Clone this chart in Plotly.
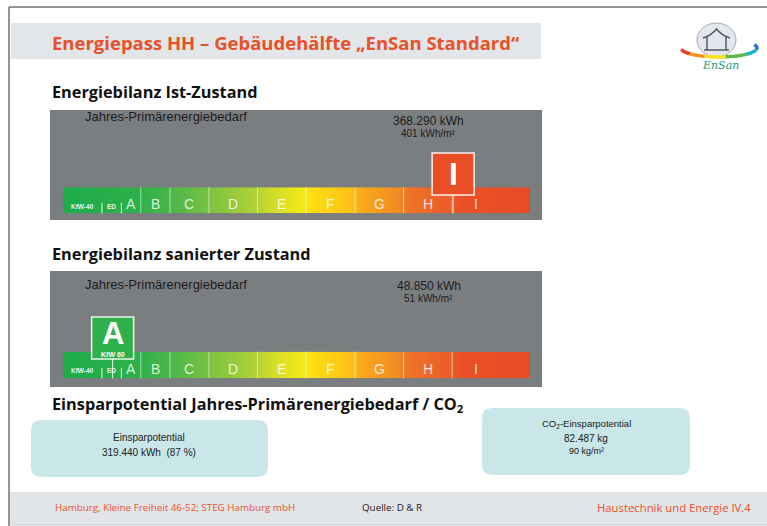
import math
import plotly.graph_objects as go

W, H = 767, 526

# ---------------- data ----------------
classes = ["A", "B", "C", "D", "E", "F", "G", "H", "I"]
class_lower = [60, 80, 110, 150, 200, 250, 300, 350, 400]
class_upper = [80, 110, 150, 200, 250, 300, 350, 400, 450]
sub_classes = ["KfW-40", "ED"]
sub_lower = [0, 40]
sub_upper = [40, 60]
scale_min, scale_max = 0, 480

states = ["Ist-Zustand", "sanierter Zustand"]
demand_kwh = [368290, 48850]
demand_kwh_m2 = [401, 51]
rating_class = ["I", "A"]
rating_note = ["", "KfW 60"]

savings_kwh = 319440
savings_pct = 87
co2_savings_kg = 82487
co2_savings_kg_m2 = 90


def de(n):
    return f"{n:,}".replace(",", ".")


def px(x):
    return x / W


def py(y):
    return 1 - y / H


# ---------------- styling / geometry (pixels) ----------------
ORANGE = "#e8512a"
BAR_X0, BAR_X1 = 63, 530
PANEL_X0, PANEL_X1 = 50, 542
panels = [
    dict(top=110, bottom=220, bar_top=187.3, bar_bot=213.3, heading_y=92, label_y=117,
         val_y=120.5, unit_y=133.5, box_top=153, box_bot=195, color="#e94e26"),
    dict(top=271, bottom=387, bar_top=351.7, bar_bot=378.3, heading_y=254, label_y=284,
         val_y=285.5, unit_y=298.5, box_top=317, box_bot=359, color="#2eb14b"),
]
grad = [[0.0, "#1eac4b"], [0.16, "#2db04a"], [0.23, "#4ab648"], [0.31, "#78c143"],
        [0.415, "#b3d235"], [0.45, "#d2dd2a"], [0.515, "#f5ea15"], [0.53, "#fddf12"],
        [0.62, "#fcbf17"], [0.64, "#f8a91c"], [0.72, "#f28a23"], [0.74, "#ef7428"],
        [0.83, "#ec5c29"], [0.85, "#ea5127"], [1.0, "#e84a26"]]

SANS = "Open Sans"
NARROW = "Liberation Sans Narrow, Liberation Sans, Arial"

fig = go.Figure()
shapes = []
ann = []

# slide background elements
shapes.append(dict(type="rect", xref="paper", yref="paper", x0=px(11), x1=px(541), y0=py(59), y1=py(23),
                   fillcolor="#e3e6e9", line=dict(width=0), layer="below"))
shapes.append(dict(type="rect", xref="paper", yref="paper", x0=px(10), x1=px(767), y0=py(525), y1=py(492),
                   fillcolor="#e2e5e8", line=dict(width=0), layer="below"))
shapes.append(dict(type="line", xref="paper", yref="paper", x0=px(9), x1=px(767), y0=py(7), y1=py(7),
                   line=dict(color="#707070", width=1.5)))
shapes.append(dict(type="line", xref="paper", yref="paper", x0=px(9), x1=px(9), y0=py(7), y1=py(526),
                   line=dict(color="#707070", width=1.5)))
shapes.append(dict(type="line", xref="paper", yref="paper", x0=px(9), x1=px(767), y0=py(525), y1=py(525),
                   line=dict(color="#c9cdd1", width=1)))

ann.append(dict(text="Energiepass HH – Gebäudehälfte „EnSan Standard“", x=px(50), y=py(42),
                xanchor="left", yanchor="middle",
                font=dict(family=SANS, size=18.5, color=ORANGE, weight="bold")))


def rounded_rect(x0, y0, x1, y1, r):
    X0, X1 = px(x0), px(x1)
    Y0, Y1 = py(y0), py(y1)
    rx, ry = r / W, r / H
    return (f"M {X0+rx},{Y0} L {X1-rx},{Y0} Q {X1},{Y0} {X1},{Y0-ry} "
            f"L {X1},{Y1+ry} Q {X1},{Y1} {X1-rx},{Y1} L {X0+rx},{Y1} "
            f"Q {X0},{Y1} {X0},{Y1+ry} L {X0},{Y0-ry} Q {X0},{Y0} {X0+rx},{Y0} Z")


axis_layout = {}
for i, p in enumerate(panels):
    xa = "x" if i == 0 else f"x{i+1}"
    ya = "y" if i == 0 else f"y{i+1}"
    xkey = "xaxis" if i == 0 else f"xaxis{i+1}"
    ykey = "yaxis" if i == 0 else f"yaxis{i+1}"
    axis_layout[xkey] = dict(domain=[px(BAR_X0), px(BAR_X1)], range=[scale_min, scale_max],
                             visible=False, anchor=ya, fixedrange=True)
    axis_layout[ykey] = dict(domain=[py(p["bar_bot"]), py(p["bar_top"])], range=[0, 1],
                             visible=False, anchor=xa, fixedrange=True)

    # grey panel
    shapes.append(dict(type="rect", xref="paper", yref="paper", x0=px(PANEL_X0), x1=px(PANEL_X1),
                       y0=py(p["bottom"]), y1=py(p["top"]), fillcolor="#7b7e81",
                       line=dict(width=0), layer="below"))

    # gradient energy scale
    fig.add_trace(go.Scatter(
        x=[scale_min, scale_max], y=[1, 1], fill="tozeroy", mode="none",
        fillgradient=dict(type="horizontal", colorscale=grad, start=scale_min, stop=scale_max),
        hoverinfo="skip", showlegend=False, xaxis=xa, yaxis=ya))

    # class separators
    for b in class_lower[1:]:
        shapes.append(dict(type="line", xref=xa, yref=f"{ya} domain", x0=b, x1=b, y0=0, y1=1,
                           line=dict(color="rgba(255,255,255,0.55)", width=1)))
    for b in sub_upper:
        shapes.append(dict(type="line", xref=xa, yref=f"{ya} domain", x0=b, x1=b, y0=0, y1=0.4,
                           line=dict(color="rgba(255,255,255,0.9)", width=1)))

    # class letters
    for c, lo, hi in zip(classes, class_lower, class_upper):
        ann.append(dict(text=c, xref=xa, yref="paper", x=(lo + hi) / 2, y=py(p["bar_top"] + 17),
                        xanchor="center", yanchor="middle",
                        font=dict(family="Liberation Sans", size=14, color="rgba(255,255,255,0.82)")))
    for c, lo, hi in zip(sub_classes, sub_lower, sub_upper):
        ann.append(dict(text=c, xref=xa, yref="paper", x=(lo + hi) / 2, y=py(p["bar_top"] + 19),
                        xanchor="center", yanchor="middle",
                        font=dict(family=NARROW, size=6.5, color="rgba(255,255,255,0.92)", weight="bold")))

    # heading & panel texts
    ann.append(dict(text="Energiebilanz " + states[i], x=px(50), y=py(p["heading_y"]),
                    xanchor="left", yanchor="middle",
                    font=dict(family=SANS, size=16.3, color="#111111", weight="bold")))
    ann.append(dict(text="Jahres-Primärenergiebedarf", x=px(83), y=py(p["label_y"]),
                    xanchor="left", yanchor="middle",
                    font=dict(family=NARROW, size=13, color="#1c1c1c")))
    ann.append(dict(text=f"{de(demand_kwh[i])} kWh", x=px(429), y=py(p["val_y"]),
                    xanchor="center", yanchor="middle", borderpad=0,
                    font=dict(family=NARROW, size=12, color="#1c1c1c")))
    ann.append(dict(text=f"{de(demand_kwh_m2[i])} kWh/m²", x=px(429), y=py(p["unit_y"]),
                    xanchor="center", yanchor="middle", borderpad=0,
                    font=dict(family=NARROW, size=10, color="#1c1c1c")))

    # rating marker
    v = demand_kwh_m2[i]
    shapes.append(dict(type="line", xref=xa, yref="paper", x0=v, x1=v,
                       y0=py(p["bar_bot"]), y1=py(p["box_bot"]),
                       line=dict(color="rgba(255,255,255,0.9)", width=1)))
    shapes.append(dict(type="rect", xref=xa, yref="paper", xsizemode="pixel", xanchor=v,
                       x0=-21, x1=21, y0=py(p["box_bot"]), y1=py(p["box_top"]),
                       fillcolor=p["color"], line=dict(color="rgba(255,255,255,0.9)", width=1.5)))
    if rating_note[i]:
        ann.append(dict(text=f"<b>{rating_class[i]}</b>", xref=xa, yref="paper", x=v,
                        y=py(p["box_top"] + 16), xanchor="center", yanchor="middle",
                        font=dict(family="Liberation Sans", size=31, color="white")))
        ann.append(dict(text=rating_note[i], xref=xa, yref="paper", x=v,
                        y=py(p["box_bot"] - 5), xanchor="center", yanchor="middle",
                        font=dict(family=NARROW, size=7, color="white", weight="bold")))
    else:
        ann.append(dict(text=f"<b>{rating_class[i]}</b>", xref=xa, yref="paper", x=v,
                        y=py((p["box_top"] + p["box_bot"]) / 2), xanchor="center", yanchor="middle",
                        font=dict(family="Liberation Sans", size=32, color="white")))

# savings section
ann.append(dict(text="Einsparpotential Jahres-Primärenergiebedarf / CO<sub>2</sub>", x=px(50), y=py(404),
                xanchor="left", yanchor="middle",
                font=dict(family=SANS, size=16.3, color="#111111", weight="bold")))
shapes.append(dict(type="path", path=rounded_rect(31, 420, 268, 477, 11), xref="paper", yref="paper",
                   fillcolor="#c9e6e8", line=dict(width=0), layer="below"))
shapes.append(dict(type="path", path=rounded_rect(482, 408, 690, 475, 11), xref="paper", yref="paper",
                   fillcolor="#c9e6e8", line=dict(width=0), layer="below"))
ann.append(dict(text="Einsparpotential", x=px(149), y=py(437), xanchor="center", yanchor="middle",
                font=dict(family=NARROW, size=10, color="#222222")))
ann.append(dict(text=f"{de(savings_kwh)} kWh  ({savings_pct} %)", x=px(149), y=py(452),
                xanchor="center", yanchor="middle",
                font=dict(family=NARROW, size=10, color="#222222")))
ann.append(dict(text="CO<sub>2</sub>-Einsparpotential", x=px(586), y=py(424), xanchor="center",
                yanchor="middle", font=dict(family=NARROW, size=9.5, color="#222222")))
ann.append(dict(text=f"{de(co2_savings_kg)} kg", x=px(586), y=py(438), xanchor="center",
                yanchor="middle", font=dict(family=NARROW, size=10, color="#222222")))
ann.append(dict(text=f"{de(co2_savings_kg_m2)} kg/m²", x=px(586), y=py(451), xanchor="center",
                yanchor="middle", font=dict(family=NARROW, size=9, color="#222222")))

# footer
ann.append(dict(text="Hamburg, Kleine Freiheit 46-52; STEG Hamburg mbH", x=px(53), y=py(507),
                xanchor="left", yanchor="middle", font=dict(family=SANS, size=9.8, color=ORANGE)))
ann.append(dict(text="Quelle: D &amp; R", x=px(360), y=py(507), xanchor="left", yanchor="middle",
                font=dict(family=SANS, size=9.8, color="#222222")))
ann.append(dict(text="Haustechnik und Energie IV.4", x=px(753), y=py(507), xanchor="right",
                yanchor="middle", font=dict(family=SANS, size=11.3, color=ORANGE)))

# logo (decoration)
shapes.append(dict(type="circle", xref="paper", yref="paper", x0=px(697), x1=px(736), y0=py(57), y1=py(23),
                   fillcolor="#e4e7ee", line=dict(color="#a4a9b2", width=1)))
house = (f"M {px(703)},{py(38)} Q {px(712)},{py(35)} {px(716.5)},{py(29)} "
         f"Q {px(721)},{py(35)} {px(730)},{py(38)}")
shapes.append(dict(type="path", path=house, xref="paper", yref="paper",
                   line=dict(color="#55595f", width=1.5)))
for hx in (707, 726):
    shapes.append(dict(type="line", xref="paper", yref="paper", x0=px(hx), x1=px(hx), y0=py(37), y1=py(50),
                       line=dict(color="#55595f", width=1.5)))
shapes.append(dict(type="line", xref="paper", yref="paper", x0=px(704), x1=px(729), y0=py(50), y1=py(50),
                   line=dict(color="#55595f", width=1.5)))
sw_cols = ["#e8412a", "#f7931e", "#f3e21c", "#5ab947", "#22b3c4", "#2e74c2"]
cx, cy, rx, ry = 719, 48, 38, 9
angs = [172, 140, 112, 80, 45, 10, -22]
for k, col in enumerate(sw_cols):
    pts = []
    a0, a1 = angs[k], angs[k + 1]
    for j in range(6):
        a = math.radians(a0 + (a1 - a0) * j / 5)
        pts.append((px(cx + rx * math.cos(a)), py(cy + ry * math.sin(a))))
    path = "M " + " L ".join(f"{x},{y}" for x, y in pts)
    shapes.append(dict(type="path", path=path, xref="paper", yref="paper",
                       line=dict(color=col, width=3.5)))
ann.append(dict(text="<i>EnSan</i>", x=px(720), y=py(66), xanchor="center", yanchor="middle",
                font=dict(family="DejaVu Serif", size=11, color="#1a9a78")))

fig.update_layout(
    width=W, height=H, margin=dict(l=0, r=0, t=0, b=0),
    paper_bgcolor="white", plot_bgcolor="rgba(0,0,0,0)",
    shapes=shapes, annotations=[{**dict(showarrow=False, xref="paper", yref="paper"), **a} for a in ann],
    showlegend=False, hovermode=False,
    **axis_layout,
)

fig.write_html("out.html", config={"displayModeBar": False, "staticPlot": True},
               post_script="document.body.style.margin='0';document.body.style.overflow='hidden';")
